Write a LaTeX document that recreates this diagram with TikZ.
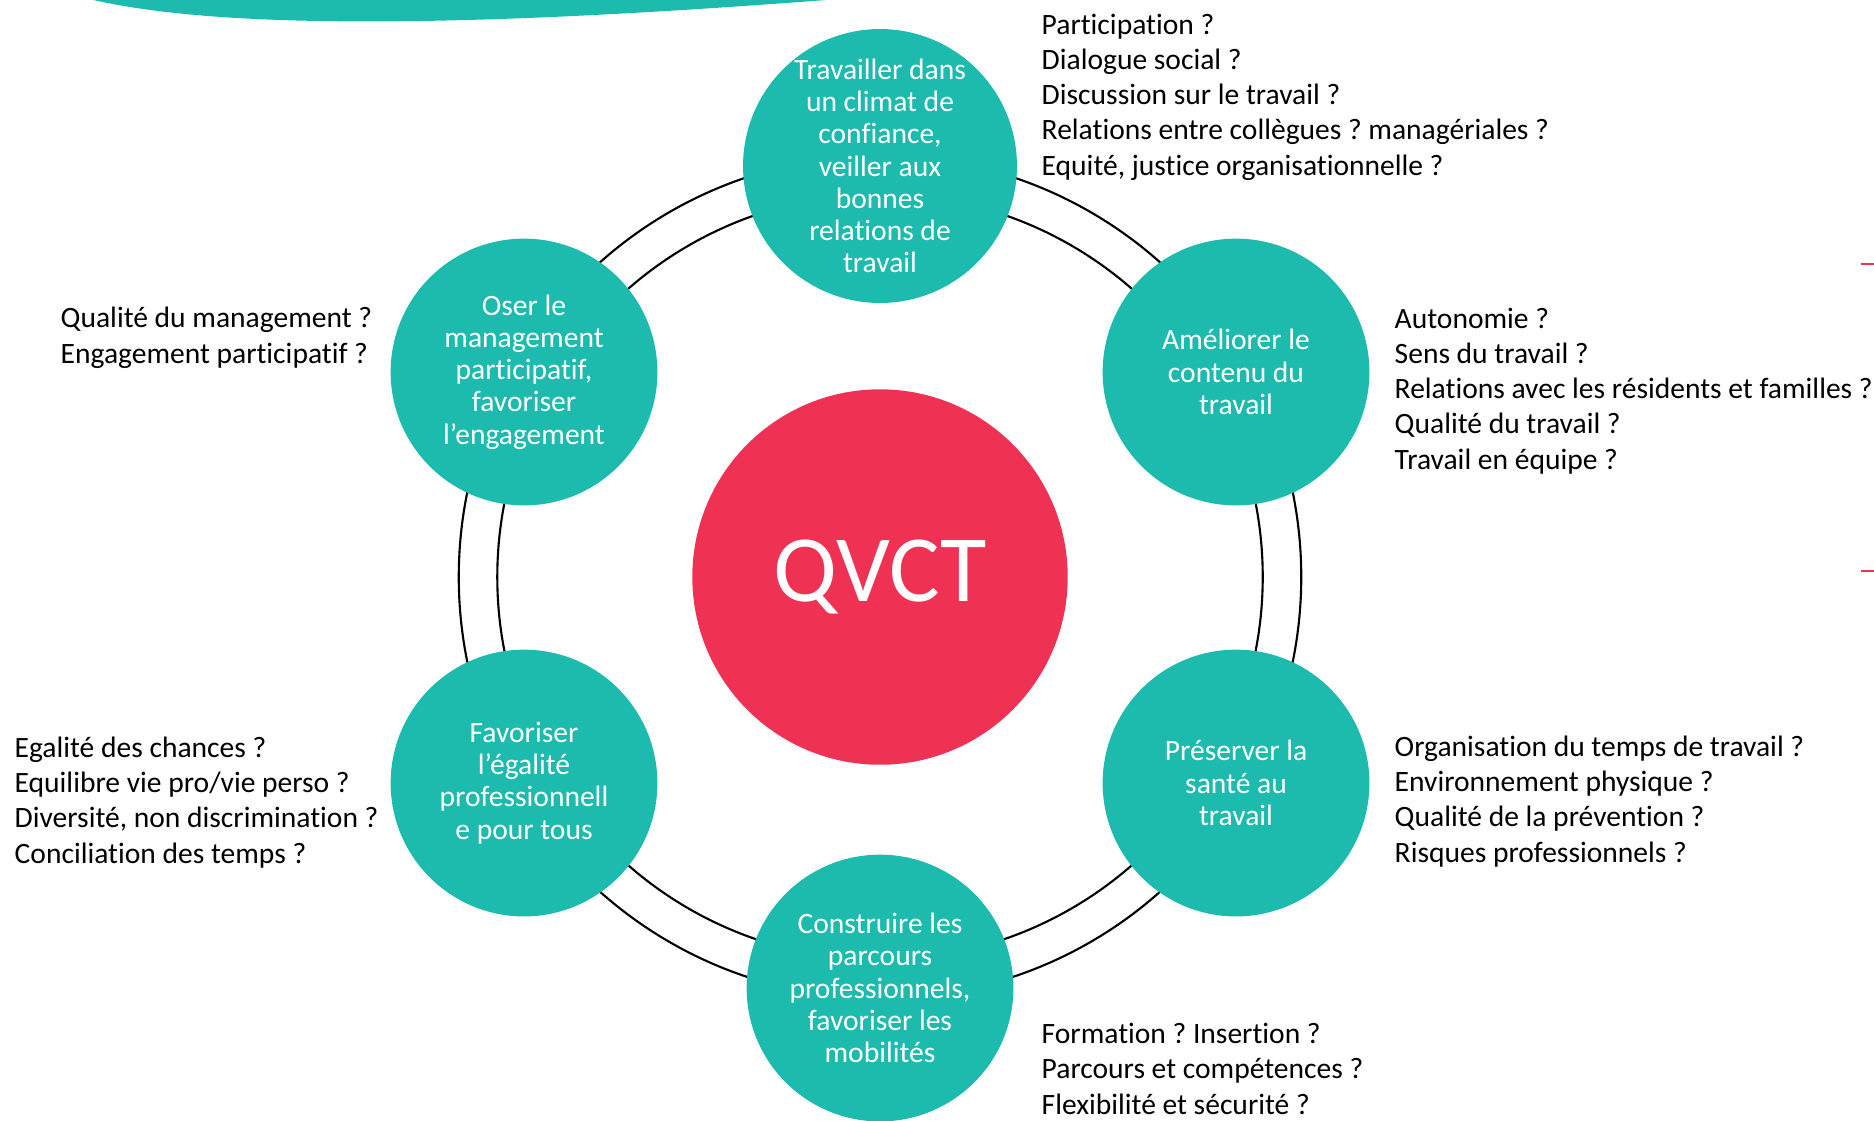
\documentclass[tikz,border=0pt]{standalone}
\usepackage{fontspec}
\setmainfont{Carlito}[Ligatures=NoCommon]
\frenchspacing
\definecolor{qvctteal}{RGB}{29,187,174}
\definecolor{qvctred}{RGB}{239,50,83}

\begin{document}
\begin{tikzpicture}[x=0.01cm,y=-0.01cm,
  theme/.style={circle,fill=qvctteal,minimum size=2.666cm,inner sep=0pt,
    text=white,align=center,font=\fontsize{8.4}{9.16}\selectfont},
  core/.style={circle,fill=qvctred,minimum size=3.752cm,inner sep=0pt,
    text=white,font=\fontsize{27}{32}\selectfont},
  questions/.style={align=left,anchor=base west,inner sep=0pt,
    font=\fontsize{8.4}{10}\selectfont},
  ring/.style={line width=0.6pt}]
\useasboundingbox (0,0) rectangle (1874,1120);

% bandeau du haut et traits rouges du bord
\fill[qvctteal] (85,-2) .. controls (230,34) and (520,24) .. (852,-2) -- cycle;
\draw[qvctred,line width=0.4pt] (1861,264) -- (1876,264);
\draw[qvctred,line width=0.4pt] (1861,571) -- (1876,571);

% double anneau
\coordinate (centre) at (880,577);
\draw[ring] (centre) circle[radius=4.21cm];
\draw[ring] (centre) circle[radius=3.825cm];

\node[core] (qvct) at (centre) {QVCT};

\node[theme] (climat) at (880,166) {Travailler dans\\un climat de\\confiance,\\veiller aux\\bonnes\\relations de\\travail};
\node[theme] (contenu) at (1236,372) {Améliorer le\\contenu du\\travail};
\node[theme] (sante) at (1236,783) {Préserver la\\santé au\\travail};
\node[theme] (parcours) at (880,988) {Construire les\\parcours\\professionnels,\\favoriser les\\mobilités};
\node[theme] (egalite) at (524,783) {Favoriser\\l’égalité\\professionnell\\e pour tous};
\node[theme] (management) at (524,372) {Oser le\\management\\participatif,\\favoriser\\l’engagement};

% questions (base = derniere ligne)
\node[questions] (qclimat) at (1041,175) {Participation ?\\Dialogue social ?\\Discussion sur le travail ?\\Relations entre collègues ? managériales ?\\Equité, justice organisationnelle ?};
\node[questions] (qcontenu) at (1394,469) {Autonomie ?\\Sens du travail ?\\Relations avec les résidents et familles ?\\Qualité du travail ?\\Travail en équipe ?};
\node[questions] (qsante) at (1394,862) {Organisation du temps de travail ?\\Environnement physique ?\\Qualité de la prévention ?\\Risques professionnels ?};
\node[questions] (qparcours) at (1041,1114) {Formation ? Insertion ?\\Parcours et compétences ?\\Flexibilité et sécurité ?};
\node[questions] (qegalite) at (14,863) {Egalité des chances ?\\Equilibre vie pro/vie perso ?\\Diversité, non discrimination ?\\Conciliation des temps ?};
\node[questions] (qmanagement) at (60,363) {Qualité du management ?\\Engagement participatif ?};
\end{tikzpicture}
\end{document}
